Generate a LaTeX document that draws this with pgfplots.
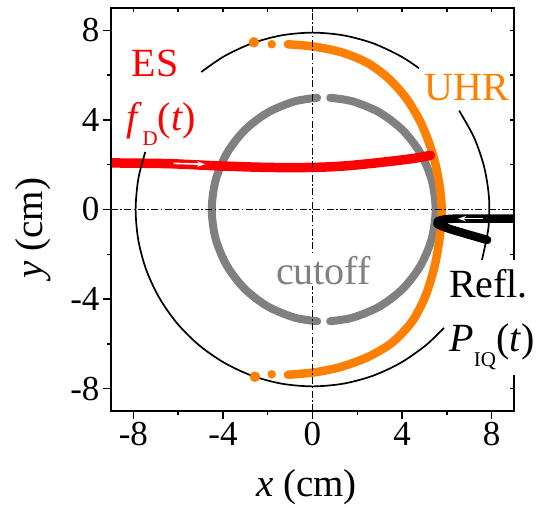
\documentclass[border=0pt]{standalone}
\usepackage{fontspec}
\setmainfont{Liberation Serif}
\usepackage{pgfplots}
\pgfplotsset{compat=1.18}
\usetikzlibrary{arrows.meta}

\definecolor{uhr}{RGB}{255,128,0}
\definecolor{cut}{RGB}{128,128,128}
\newcommand\tickfont{\fontsize{35bp}{35bp}\selectfont}
\newcommand\labfont{\fontsize{39bp}{39bp}\selectfont}
\newcommand\anfont{\fontsize{40bp}{40bp}\selectfont}
\newcommand\subfont{\fontsize{21bp}{21bp}\selectfont}

\begin{document}
\begin{tikzpicture}
\pgfplotsset{
  frame/.style={
    scale only axis, width=403bp, height=403bp,
    xmin=-9, xmax=9, ymin=-9, ymax=9,
    xtick={-8,-4,0,4,8}, ytick={-8,-4,0,4,8},
    minor xtick={-6,-2,2,6}, minor ytick={-6,-2,2,6},
    every tick/.style={black, line width=1.5bp},
    axis line style={line width=2bp},
    clip mode=individual,
  }
}
% main axis: data, outward ticks with labels on bottom and left
\begin{axis}[frame, name=main,
  xtick pos=left, ytick pos=left, tick align=outside,
  major tick length=8bp, minor tick length=4bp,
  ticklabel style={font=\tickfont},
  /pgf/number format/assume math mode=true,
]
% cutoff layer (two halves)
\addplot[cut, line width=8bp, line cap=round, smooth] coordinates {
  (0.79,4.99) (1.794,4.830) (3.0,4.330) (4.036,3.536) (4.830,2.5)
  (5.330,1.294) (5.5,0) (5.330,-1.294) (4.830,-2.5) (4.036,-3.536)
  (3.0,-4.330) (1.794,-4.830) (0.79,-4.99)};
\addplot[cut, line width=8bp, line cap=round, smooth] coordinates {
  (0.21,4.99) (-0.794,4.830) (-2.0,4.330) (-3.036,3.536) (-3.830,2.5)
  (-4.330,1.294) (-4.5,0) (-4.330,-1.294) (-3.830,-2.5) (-3.036,-3.536)
  (-2.0,-4.330) (-0.794,-4.830) (0.21,-4.99)};
% upper hybrid resonance layer
\addplot[uhr, line width=8.5bp, line cap=round, smooth] coordinates {
  (-1.1,7.38) (0.04,7.28) (1.3,7.02) (2.45,6.55) (3.4,5.85) (4.2,4.95)
  (4.85,3.85) (5.35,2.55) (5.65,1.25) (5.77,0.0) (5.68,-1.25)
  (5.45,-2.55) (5.05,-3.85) (4.45,-5.0) (3.55,-5.95) (2.45,-6.6)
  (1.2,-7.05) (0.04,-7.28) (-1.1,-7.38)};
% ES ray
\addplot[red, line width=9.5bp, line cap=round, smooth] coordinates {
  (-9.0,2.08) (-6.5,2.05) (-4.25,1.95) (-2.0,1.88) (0.0,1.88)
  (1.5,1.95) (3.2,2.12) (4.5,2.28) (5.27,2.42)};
% reflectometry ray
\addplot[black, line width=8.5bp, line cap=round, line join=round, smooth, tension=0.4] coordinates {
  (9.0,-0.41) (6.4,-0.41) (5.85,-0.45) (5.6,-0.53) (5.58,-0.64)
  (5.8,-0.75) (6.29,-0.92) (7.8,-1.36)};
% thin guide arcs (r = 7.9)
\addplot[black, line width=1.7bp, smooth] coordinates {
  (4.754,6.309) (3.95,6.841) (2.702,7.424) (1.372,7.780) (0,7.9)
  (-1.372,7.780) (-2.702,7.424) (-3.95,6.841) (-4.972,6.139)};
\addplot[black, line width=1.7bp, smooth] coordinates {
  (6.549,4.418) (7.217,3.213) (7.665,1.911) (7.881,0.551) (7.857,-0.826) (7.555,-2.310)};
\addplot[black, line width=1.7bp, smooth] coordinates {
  (-7.469,2.572) (-7.780,1.372) (-7.9,0) (-7.780,-1.372) (-7.424,-2.702)
  (-6.841,-3.95) (-6.052,-5.078) (-5.078,-6.052) (-3.95,-6.841) (-2.702,-7.424)
  (-1.372,-7.780) (0,-7.9) (1.372,-7.780) (2.702,-7.424) (3.95,-6.841)
  (5.078,-6.052) (5.871,-5.286)};
% isolated UHR points
\addplot[only marks, mark=*, mark size=5bp, uhr] coordinates {(-2.62,7.47) (-2.57,-7.47)};
\addplot[only marks, mark=*, mark size=4bp, uhr] coordinates {(-1.82,7.38) (-1.82,-7.36)};
% centre lines
\addplot[black, line width=1.1bp, dash pattern=on 7bp off 2.5bp on 1.5bp off 2.5bp] coordinates {(0,-9) (0,9)};
\addplot[black, line width=1.1bp, dash pattern=on 7bp off 2.5bp on 1.5bp off 2.5bp] coordinates {(-9,0) (9,0)};
% direction arrows
\addplot[white, line width=1.6bp, -{Stealth[length=8bp,width=5.5bp]}] coordinates {(-6.2,2.06) (-4.8,2.02)};
\addplot[white, line width=1.6bp, -{Stealth[length=8bp,width=5.5bp]}] coordinates {(7.6,-0.41) (6.5,-0.41)};
\end{axis}
% top and right inward ticks
\begin{axis}[frame,
  xtick pos=right, ytick pos=right, tick align=inside,
  major tick length=4bp, minor tick length=4bp,
  xticklabels={}, yticklabels={},
]
\fill[white] (axis cs:5.9,-2.25) rectangle (axis cs:10.1,-7.4);
\node[anchor=base, text=red, font=\anfont, inner sep=0pt] at (axis cs:-7.03,5.93) {ES};
\node[anchor=base, text=red, font=\anfont, inner sep=0pt] at (axis cs:-6.74,3.51)
  {\textit{f}\raisebox{-15bp}{\subfont D}(\textit{t})};
\node[anchor=base, text=uhr, font=\anfont, inner sep=0pt] at (axis cs:6.90,4.89) {UHR};
\node[anchor=base, text=cut, font=\anfont, fill=white, inner sep=1bp] at (axis cs:0.49,-3.37) {cutoff};
\node[anchor=base, font=\anfont, inner sep=0pt] at (axis cs:7.86,-3.91) {Refl.};
\node[anchor=base, font=\anfont, inner sep=0pt] at (axis cs:8.02,-6.36)
  {\textit{P}\raisebox{-15bp}{\subfont IQ}(\textit{t})};
\node[anchor=base, font=\labfont, inner sep=0pt] at (axis cs:-0.27,-12.84) {\textit{x} (cm)};
\node[anchor=base, rotate=90, font=\labfont, inner sep=0pt] at (axis cs:-12.08,-0.83) {\textit{y} (cm)};
\end{axis}
\pgfresetboundingbox
\path[use as bounding box] ([shift={(-111bp,-96bp)}]main.south west) rectangle ([shift={(25bp,8bp)}]main.north east);
\end{tikzpicture}
\end{document}
